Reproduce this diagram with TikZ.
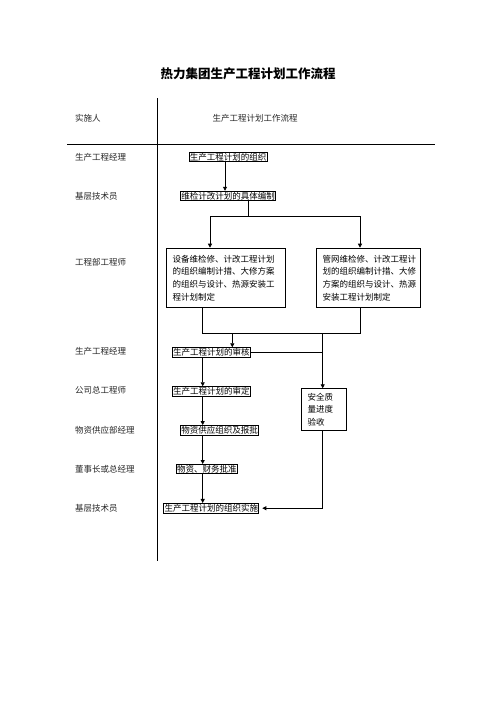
\documentclass[tikz,border=0pt]{standalone}
\usepackage{fontspec}
\setmainfont{Noto Sans CJK SC}
\usetikzlibrary{arrows.meta}

\tikzset{
  kuang/.style={draw, line width=0.9pt, inner sep=0.8pt,
    font=\fontsize{8.5}{12.7}\selectfont},
  dakuang/.style={draw, line width=0.9pt, inner xsep=6.5pt, inner ysep=4pt,
    align=left, anchor=north west, font=\fontsize{8.5}{12.7}\selectfont},
  hang/.style={anchor=west, inner sep=0pt, text=black!85,
    font=\fontsize{8.5}{10}\selectfont},
  xian/.style={line width=0.8pt},
  jt/.style={line width=0.8pt, -{Triangle[length=4pt,width=4pt]}}
}

\newcommand{\kuangzi}[3]{
  \node[kuang] (#1) at (#2) {#3};
}

\begin{document}
\begin{tikzpicture}[x=1pt, y=-1pt]

  \useasboundingbox (0,0) rectangle (496,702);

  % BIAOTI
  % ======
  \node[font=\fontsize{12.5}{14}\selectfont\bfseries] (biaoti) at (248,74)
  {热力集团生产工程计划工作流程};

  \draw[xian] (157.5,98) -- (157.5,561);
  \draw[xian] (67,144.5) -- (435,144.5);

  \node[hang] (shishi) at (75,118) {实施人};
  \node[hang, anchor=center] (liucheng) at (255,118) {生产工程计划工作流程};

  % Shishiren
  % ---------
  \foreach \y/\t in {157/生产工程经理, 196/基层技术员, 262/工程部工程师,
    351/生产工程经理, 390/公司总工程师, 430/物资供应部经理,
    469/董事长或总经理, 508/基层技术员}
  \node[hang] (r\y) at (75,\y) {\t};

  % Kuang
  % =====
  \kuangzi{b1}{228,157}{生产工程计划的组织};
  \kuangzi{b2}{228,196}{维检计改计划的具体编制};

  \node[dakuang, text width=106pt, minimum height=59.6pt] (b3l) at (165.7,247.7)
  {设备维检修、计改工程计划\\的组织编制计措、大修方案\\的组织与设计、热源安装工\\程计划制定};
  \node[dakuang, text width=91pt, minimum height=59.6pt] (b3r) at (315.7,247.7)
  {管网维检修、计改工程计\\划的组织编制计措、大修\\方案的组织与设计、热源\\安装工程计划制定};

  \kuangzi{b4}{211.3,352.5}{生产工程计划的审核};
  \kuangzi{b5}{211.3,391.5}{生产工程计划的审定};
  \kuangzi{b6}{219.7,430.3}{物资供应组织及报批};
  \kuangzi{b7}{206.8,469.2}{物资、财务批准};
  \kuangzi{b8}{211.3,508.2}{生产工程计划的组织实施};

  \node[dakuang, text width=32pt, minimum height=41.7pt, inner ysep=3pt]
  (aq) at (300.7,388.3) {安全质\\量进度\\验收};

  % Jiantou
  % =======
  \coordinate (z0) at (225,0);
  \coordinate (fen) at (248,216);
  \coordinate (z1) at (210,216);
  \coordinate (z2) at (360,216);
  \coordinate (h1) at (202.7,333);
  \coordinate (h2) at (360,333);
  \coordinate (h3) at (232.3,333);
  \coordinate (s1) at (322.7,333);

  \draw[jt] (z0 |- b1.south) -- (z0 |- b2.north);
  \draw[xian] (fen |- b2.south) -- (fen);
  \draw[xian] (z1) -- (z2);
  \draw[jt] (z1) -- (z1 |- b3l.north);
  \draw[jt] (z2) -- (z2 |- b3r.north);

  \draw[xian] (h1 |- b3l.south) -- (h1) -- (h2) -- (h2 |- b3r.south);
  \draw[jt] (h3) -- (h3 |- b4.north);
  \draw[xian] (b4.east) -- (b4.east -| s1);
  \draw[jt] (s1) -- (s1 |- aq.north);

  \foreach \a/\b in {b4/b5, b5/b6, b6/b7, b7/b8}
  \draw[jt] (h1 |- \a.south) -- (h1 |- \b.north);

  \draw[jt] (s1 |- aq.south) -- (s1 |- b8.east) -- ([xshift=3pt]b8.east);

\end{tikzpicture}
\end{document}
